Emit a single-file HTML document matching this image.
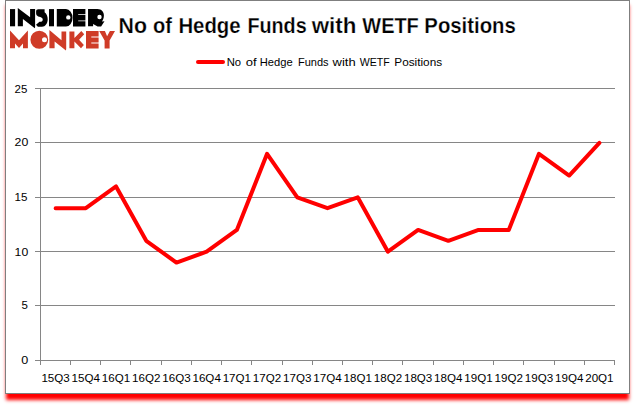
<!DOCTYPE html>
<html><head><meta charset="utf-8"><style>
html,body{margin:0;padding:0;background:#fff;}
body{width:635px;height:405px;overflow:hidden;position:relative;font-family:"Liberation Sans",sans-serif;}
#box{position:absolute;left:5px;top:0;width:623px;height:392px;border:1px solid #7f7f7f;background:#fff;}
#sh{position:absolute;left:5px;top:-3px;width:625px;height:397px;box-shadow:0 7px 3.5px -1px #ff0000;}
svg{position:absolute;left:0;top:0;}
text{font-family:"Liberation Sans",sans-serif;fill:#000;}
</style></head><body>
<div id="sh"></div><div id="box"></div>
<svg width="635" height="405" viewBox="0 0 635 405">
<g stroke="#868686" stroke-width="1" fill="none" shape-rendering="crispEdges">
<line x1="35" y1="360.5" x2="615.0" y2="360.5"/>
<line x1="35" y1="305.5" x2="615.0" y2="305.5"/>
<line x1="35" y1="251.5" x2="615.0" y2="251.5"/>
<line x1="35" y1="197.5" x2="615.0" y2="197.5"/>
<line x1="35" y1="142.5" x2="615.0" y2="142.5"/>
<line x1="35" y1="88.5" x2="615.0" y2="88.5"/>
<line x1="40.5" y1="88.5" x2="40.5" y2="365.0"/>
<line x1="40.5" y1="360.5" x2="40.5" y2="365.0"/>
<line x1="70.5" y1="360.5" x2="70.5" y2="365.0"/>
<line x1="100.5" y1="360.5" x2="100.5" y2="365.0"/>
<line x1="130.5" y1="360.5" x2="130.5" y2="365.0"/>
<line x1="161.5" y1="360.5" x2="161.5" y2="365.0"/>
<line x1="191.5" y1="360.5" x2="191.5" y2="365.0"/>
<line x1="221.5" y1="360.5" x2="221.5" y2="365.0"/>
<line x1="251.5" y1="360.5" x2="251.5" y2="365.0"/>
<line x1="282.5" y1="360.5" x2="282.5" y2="365.0"/>
<line x1="312.5" y1="360.5" x2="312.5" y2="365.0"/>
<line x1="342.5" y1="360.5" x2="342.5" y2="365.0"/>
<line x1="372.5" y1="360.5" x2="372.5" y2="365.0"/>
<line x1="402.5" y1="360.5" x2="402.5" y2="365.0"/>
<line x1="433.5" y1="360.5" x2="433.5" y2="365.0"/>
<line x1="463.5" y1="360.5" x2="463.5" y2="365.0"/>
<line x1="493.5" y1="360.5" x2="493.5" y2="365.0"/>
<line x1="523.5" y1="360.5" x2="523.5" y2="365.0"/>
<line x1="554.5" y1="360.5" x2="554.5" y2="365.0"/>
<line x1="584.5" y1="360.5" x2="584.5" y2="365.0"/>
<line x1="614.5" y1="360.5" x2="614.5" y2="365.0"/>
</g>
<polyline points="55.61,208.18 85.82,208.18 116.03,186.42 146.24,240.82 176.45,262.58 206.66,251.70 236.87,229.94 267.08,153.78 297.29,197.30 327.50,208.18 357.71,197.30 387.92,251.70 418.13,229.94 448.34,240.82 478.55,229.94 508.76,229.94 538.97,153.78 569.18,175.54 599.39,142.90" fill="none" stroke="#ff0000" stroke-width="4" stroke-linecap="round" stroke-linejoin="round"/>
<g font-size="11.5">
<text x="14.61" y="93.1" textLength="12.79" lengthAdjust="spacingAndGlyphs">25</text>
<text x="14.61" y="146.4" textLength="13.7" lengthAdjust="spacingAndGlyphs">20</text>
<text x="14.61" y="200.95" textLength="12.9" lengthAdjust="spacingAndGlyphs">15</text>
<text x="14.61" y="256.3" textLength="13.6" lengthAdjust="spacingAndGlyphs">10</text>
<text x="21.6" y="309.45" textLength="6.4" lengthAdjust="spacingAndGlyphs">5</text>
<text x="21.2" y="364.0" textLength="7.0" lengthAdjust="spacingAndGlyphs">0</text>
<text x="41.41" y="382.4" textLength="28.4" lengthAdjust="spacingAndGlyphs">15Q3</text>
<text x="71.62" y="382.4" textLength="28.4" lengthAdjust="spacingAndGlyphs">15Q4</text>
<text x="101.83" y="382.4" textLength="28.4" lengthAdjust="spacingAndGlyphs">16Q1</text>
<text x="132.04" y="382.4" textLength="28.4" lengthAdjust="spacingAndGlyphs">16Q2</text>
<text x="162.25" y="382.4" textLength="28.4" lengthAdjust="spacingAndGlyphs">16Q3</text>
<text x="192.46" y="382.4" textLength="28.4" lengthAdjust="spacingAndGlyphs">16Q4</text>
<text x="222.67" y="382.4" textLength="28.4" lengthAdjust="spacingAndGlyphs">17Q1</text>
<text x="252.88" y="382.4" textLength="28.4" lengthAdjust="spacingAndGlyphs">17Q2</text>
<text x="283.09" y="382.4" textLength="28.4" lengthAdjust="spacingAndGlyphs">17Q3</text>
<text x="313.30" y="382.4" textLength="28.4" lengthAdjust="spacingAndGlyphs">17Q4</text>
<text x="343.51" y="382.4" textLength="28.4" lengthAdjust="spacingAndGlyphs">18Q1</text>
<text x="373.72" y="382.4" textLength="28.4" lengthAdjust="spacingAndGlyphs">18Q2</text>
<text x="403.93" y="382.4" textLength="28.4" lengthAdjust="spacingAndGlyphs">18Q3</text>
<text x="434.14" y="382.4" textLength="28.4" lengthAdjust="spacingAndGlyphs">18Q4</text>
<text x="464.35" y="382.4" textLength="28.4" lengthAdjust="spacingAndGlyphs">19Q1</text>
<text x="494.56" y="382.4" textLength="28.4" lengthAdjust="spacingAndGlyphs">19Q2</text>
<text x="524.77" y="382.4" textLength="28.4" lengthAdjust="spacingAndGlyphs">19Q3</text>
<text x="554.98" y="382.4" textLength="28.4" lengthAdjust="spacingAndGlyphs">19Q4</text>
<text x="585.19" y="382.4" textLength="28.4" lengthAdjust="spacingAndGlyphs">20Q1</text>
</g>
<line x1="198" y1="62" x2="223" y2="62" stroke="#ff0000" stroke-width="4" stroke-linecap="round"/>
<g font-size="11"><text x="226.7" y="65.7" textLength="14.36" lengthAdjust="spacingAndGlyphs">No</text><text x="245.7" y="65.7" textLength="10.92" lengthAdjust="spacingAndGlyphs">of</text><text x="259.7" y="65.7" textLength="32.93" lengthAdjust="spacingAndGlyphs">Hedge</text><text x="298.0" y="65.7" textLength="30.58" lengthAdjust="spacingAndGlyphs">Funds</text><text x="332.6" y="65.7" textLength="23.06" lengthAdjust="spacingAndGlyphs">with</text><text x="359.7" y="65.7" textLength="29.97" lengthAdjust="spacingAndGlyphs">WETF</text><text x="394.3" y="65.7" textLength="47.82" lengthAdjust="spacingAndGlyphs">Positions</text></g>
<g font-size="21.4" font-weight="bold" stroke="#fff" stroke-width="0.25"><text x="118.49" y="32.95" textLength="28.44" lengthAdjust="spacingAndGlyphs">No</text><text x="153.0" y="32.95" textLength="18.97" lengthAdjust="spacingAndGlyphs">of</text><text x="178.44" y="32.95" textLength="62.12" lengthAdjust="spacingAndGlyphs">Hedge</text><text x="247.46" y="32.95" textLength="59.2" lengthAdjust="spacingAndGlyphs">Funds</text><text x="311.7" y="32.95" textLength="44.66" lengthAdjust="spacingAndGlyphs">with</text><text x="362.3" y="32.95" textLength="56.51" lengthAdjust="spacingAndGlyphs">WETF</text><text x="424.34" y="32.95" textLength="91.5" lengthAdjust="spacingAndGlyphs">Positions</text></g>
<!-- logo -->
<g fill="#000">
<rect x="10" y="9.1" width="5.1" height="17.2"/>
<path d="M17.8 26.3 L17.8 8.0 L30.1 17.3 L30.1 9.1 L35.1 9.1 L35.1 27 L34.8 28.3 L22.9 19 L22.9 26.3 Z"/>
<path d="M38.3 9.2 L44.6 9.2 L44.6 12.3 C46.6 13.8 47.7 16.5 47.7 19.3 C47.7 23.6 45.2 26.8 42 26.8 L37.9 26.8 L36.0 24.8 L39.5 21.7 L41.0 21.7 C42.2 21.6 42.8 20.6 42.7 19.3 C42.6 18.2 41.8 17.5 40.3 17.0 L38.2 16.4 C36.8 15.9 36.1 14.8 36.1 13.3 L36.1 11.5 C36.1 10.1 37 9.2 38.3 9.2 Z"/>
<rect x="49" y="9.1" width="5" height="17.2"/>
<path fill-rule="evenodd" d="M56.8 9.1 L66 9.1 A6.55 8.7 0 0 1 66 26.5 L56.8 26.5 Z M70.5 17.4 A2.2 2.2 0 1 0 66.1 17.4 A2.2 2.2 0 1 0 70.5 17.4 Z"/>
<path d="M73 9.1 H85.4 V14.35 H78.2 V15.1 H85.4 V20.5 H78.2 V21.25 H85.4 V26.4 H73 Z"/>
<path fill-rule="evenodd" d="M88.05 9.1 L97.5 9.1 C101.5 9.1 103.9 12 103.9 15.5 C103.9 17 103.6 18.3 103.2 19.3 L102 21.5 L104.5 21.2 L101.1 26.5 L97.6 26.5 L93.1 24.1 L93.1 26.2 L88.05 26.2 Z M101.7 17 A2.2 2.2 0 1 0 97.3 17 A2.2 2.2 0 1 0 101.7 17 Z"/>
</g>
<g fill="#cf3b27">
<path d="M10 48.3 L10 30.4 L19 40.3 L27.9 30.4 L27.9 48.3 L23 48.3 L23 43.6 L19 48 L15 43.6 L15 48.3 Z"/>
<path fill-rule="evenodd" d="M48.2 39.75 A8.9 9.1 0 1 0 30.4 39.75 A8.9 9.1 0 1 0 48.2 39.75 Z M47 39.7 A2.5 2.5 0 1 0 42 39.7 A2.5 2.5 0 1 0 47 39.7 Z"/>
<path d="M49.4 48.3 L49.4 30.1 L61.5 40.3 L61.5 31.6 L66.2 31.6 L66.2 49 L65.9 50.5 L54.6 41.5 L54.6 48.3 Z"/>
<path d="M69.4 31.4 H74.4 V38 L81.3 31.1 L84.2 34.3 L79.1 39.65 L83.85 45 L81 48.2 L74.4 41.6 V48.3 H69.4 Z"/>
<path d="M86 31.1 H98.6 V36.4 H91.3 V37.55 H98.6 V42.45 H91.3 V43.6 H98.6 V48.5 H86 Z"/>
<path d="M99.2 31.1 L104.9 31.1 L107.1 36.2 L109.9 31.1 L115 31.1 L109.6 40.6 L109.6 48.4 L104.6 48.4 L104.6 40.6 Z"/>
</g>
</svg>
</body></html>
